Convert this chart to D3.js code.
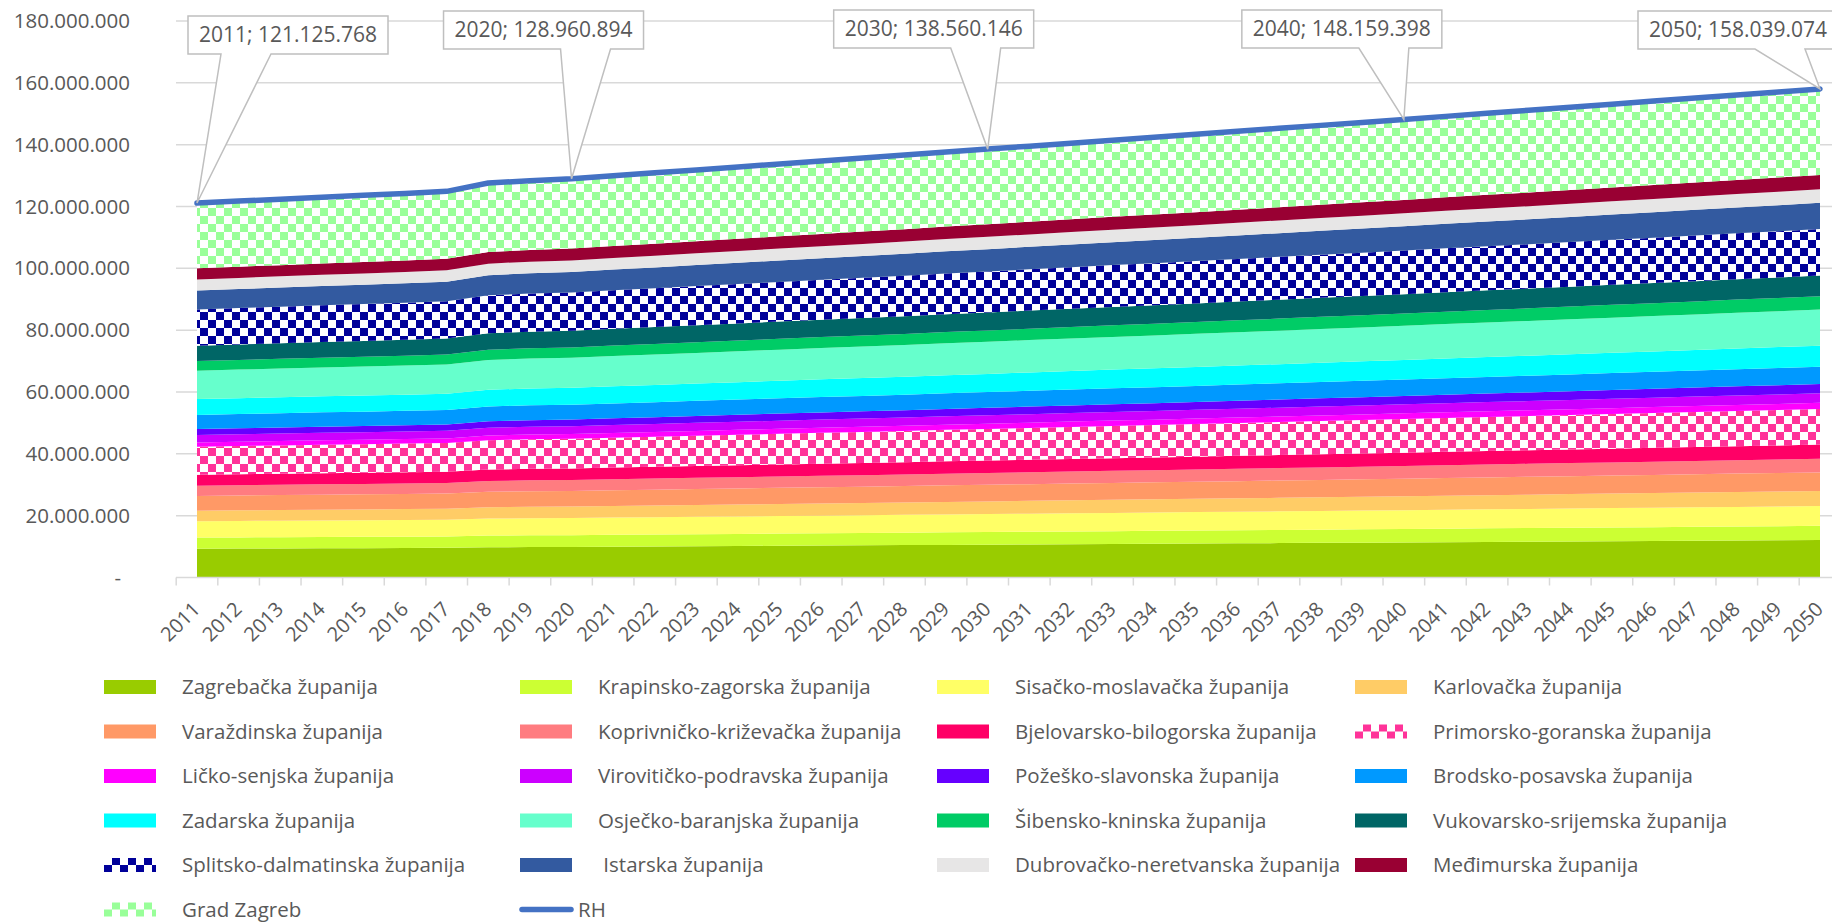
<!DOCTYPE html>
<html>
<head>
<meta charset="utf-8">
<script src="https://cdn.jsdelivr.net/npm/d3@7"></script>
<style>
  body { margin: 0; background: #fff; }
  svg { display: block; font-family: "Open Sans", sans-serif; }
  text { fill: #595959; white-space: pre; }
</style>
</head>
<body>
<script>
// Years on the category axis
const years = [2011, 2012, 2013, 2014, 2015, 2016, 2017, 2018, 2019, 2020,
               2021, 2022, 2023, 2024, 2025, 2026, 2027, 2028, 2029, 2030,
               2031, 2032, 2033, 2034, 2035, 2036, 2037, 2038, 2039, 2040,
               2041, 2042, 2043, 2044, 2045, 2046, 2047, 2048, 2049, 2050];

// Y axis ticks (millions)
const yTicks = [0, 20, 40, 60, 80, 100, 120, 140, 160, 180];

// County values, millions
const zagrebacka = [9.30,9.35,9.40,9.44,9.49,9.54,9.59,9.79,9.85,9.89, 9.97,10.04,10.11,10.18,10.26,10.33,10.40,10.48,10.55,10.62, 10.69,10.77,10.84,10.91,10.99,11.06,11.13,11.20,11.28,11.35, 11.43,11.50,11.58,11.65,11.72,11.80,11.88,11.95,12.02,12.10];
const krapinsko = [3.60,3.62,3.63,3.65,3.67,3.68,3.70,3.78,3.80,3.81, 3.84,3.86,3.89,3.92,3.94,3.97,3.99,4.02,4.05,4.07, 4.10,4.12,4.15,4.18,4.20,4.23,4.25,4.28,4.31,4.33, 4.36,4.39,4.41,4.44,4.47,4.49,4.52,4.55,4.57,4.60];
const sisacko = [5.30,5.32,5.34,5.36,5.37,5.39,5.41,5.49,5.52,5.53, 5.56,5.59,5.62,5.65,5.68,5.71,5.73,5.76,5.79,5.82, 5.85,5.88,5.91,5.93,5.96,5.99,6.02,6.05,6.08,6.11, 6.14,6.17,6.19,6.22,6.25,6.28,6.31,6.34,6.37,6.40];
const karlovacka = [3.40,3.43,3.45,3.48,3.50,3.53,3.55,3.66,3.69,3.72, 3.76,3.80,3.84,3.87,3.91,3.95,3.99,4.03,4.07,4.11, 4.15,4.19,4.23,4.26,4.30,4.34,4.38,4.42,4.46,4.50, 4.54,4.58,4.62,4.66,4.70,4.74,4.78,4.82,4.86,4.90];
const varazdinska = [4.80,4.82,4.84,4.86,4.88,4.90,4.92,5.01,5.04,5.05, 5.09,5.12,5.15,5.18,5.21,5.24,5.27,5.30,5.34,5.37, 5.40,5.43,5.46,5.49,5.52,5.55,5.59,5.62,5.65,5.68, 5.71,5.74,5.78,5.81,5.84,5.87,5.90,5.94,5.97,6.00];
const koprivnicko = [3.30,3.32,3.34,3.36,3.37,3.39,3.41,3.49,3.52,3.53, 3.56,3.59,3.62,3.65,3.68,3.71,3.73,3.76,3.79,3.82, 3.85,3.88,3.91,3.93,3.96,3.99,4.02,4.05,4.08,4.11, 4.14,4.17,4.19,4.22,4.25,4.28,4.31,4.34,4.37,4.40];
const bjelovarsko = [3.50,3.52,3.54,3.56,3.57,3.59,3.61,3.69,3.72,3.73, 3.76,3.79,3.82,3.85,3.88,3.91,3.93,3.96,3.99,4.02, 4.05,4.08,4.11,4.13,4.16,4.19,4.22,4.25,4.28,4.31, 4.34,4.37,4.39,4.42,4.45,4.48,4.51,4.54,4.57,4.60];
const primorsko = [9.10,9.14,9.18,9.22,9.26,9.30,9.35,9.52,9.57,9.61, 9.67,9.73,9.80,9.86,9.92,9.98,10.05,10.11,10.17,10.23, 10.30,10.36,10.42,10.48,10.55,10.61,10.67,10.73,10.79,10.86, 10.92,10.99,11.05,11.11,11.18,11.24,11.31,11.37,11.44,11.50];
const licko = [1.40,1.41,1.42,1.43,1.44,1.45,1.46,1.51,1.52,1.53, 1.54,1.56,1.57,1.59,1.61,1.62,1.64,1.65,1.67,1.68, 1.70,1.71,1.73,1.75,1.76,1.78,1.79,1.81,1.82,1.84, 1.86,1.87,1.89,1.90,1.92,1.94,1.95,1.97,1.98,2.00];
const viroviticko = [2.40,2.41,2.42,2.44,2.45,2.46,2.47,2.52,2.54,2.55, 2.57,2.59,2.60,2.62,2.64,2.66,2.68,2.69,2.71,2.73, 2.75,2.77,2.79,2.80,2.82,2.84,2.86,2.88,2.89,2.91, 2.93,2.95,2.97,2.99,3.01,3.03,3.04,3.06,3.08,3.10];
const pozesko = [1.90,1.92,1.94,1.96,1.97,1.99,2.01,2.09,2.12,2.13, 2.16,2.19,2.22,2.25,2.28,2.31,2.33,2.36,2.39,2.42, 2.45,2.48,2.51,2.53,2.56,2.59,2.62,2.65,2.68,2.71, 2.74,2.77,2.79,2.82,2.85,2.88,2.91,2.94,2.97,3.00];
const brodsko = [4.60,4.62,4.63,4.65,4.67,4.68,4.70,4.78,4.80,4.81, 4.84,4.86,4.89,4.92,4.94,4.97,4.99,5.02,5.05,5.07, 5.10,5.12,5.15,5.18,5.20,5.23,5.25,5.28,5.31,5.33, 5.36,5.39,5.41,5.44,5.47,5.49,5.52,5.55,5.57,5.60];
const zadarska = [5.10,5.13,5.16,5.19,5.21,5.24,5.27,5.40,5.43,5.46, 5.51,5.55,5.59,5.64,5.68,5.73,5.77,5.81,5.86,5.90, 5.95,5.99,6.04,6.08,6.12,6.17,6.21,6.26,6.30,6.34, 6.39,6.44,6.48,6.53,6.57,6.62,6.66,6.71,6.75,6.80];
const osjecko = [9.20,9.24,9.29,9.33,9.37,9.41,9.46,9.64,9.69,9.73, 9.80,9.86,9.93,9.99,10.06,10.12,10.19,10.25,10.32,10.38, 10.45,10.51,10.58,10.64,10.71,10.77,10.84,10.90,10.97,11.03, 11.10,11.17,11.23,11.30,11.37,11.43,11.50,11.57,11.63,11.70];
const sibensko = [3.10,3.12,3.14,3.16,3.18,3.20,3.22,3.31,3.34,3.35, 3.39,3.42,3.45,3.48,3.51,3.54,3.57,3.60,3.64,3.67, 3.70,3.73,3.76,3.79,3.82,3.85,3.89,3.92,3.95,3.98, 4.01,4.04,4.08,4.11,4.14,4.17,4.20,4.24,4.27,4.30];
const vukovarsko = [5.00,5.03,5.06,5.09,5.11,5.14,5.17,5.30,5.33,5.36, 5.41,5.45,5.49,5.54,5.58,5.63,5.67,5.71,5.76,5.80, 5.85,5.89,5.94,5.98,6.02,6.07,6.11,6.16,6.20,6.24, 6.29,6.34,6.38,6.43,6.47,6.52,6.56,6.61,6.65,6.70];
const splitsko = [11.70,11.76,11.81,11.87,11.92,11.98,12.04,12.28,12.35,12.40, 12.49,12.57,12.66,12.74,12.83,12.91,13.00,13.09,13.17,13.26, 13.34,13.43,13.52,13.60,13.69,13.77,13.86,13.94,14.03,14.12, 14.21,14.29,14.38,14.47,14.56,14.65,14.74,14.83,14.91,15.00];
const istarska = [6.10,6.14,6.18,6.22,6.26,6.30,6.35,6.52,6.57,6.61, 6.67,6.73,6.80,6.86,6.92,6.98,7.05,7.11,7.17,7.23, 7.30,7.36,7.42,7.48,7.55,7.61,7.67,7.73,7.79,7.86, 7.92,7.99,8.05,8.11,8.18,8.24,8.31,8.37,8.44,8.50];
const dubrovacko = [3.60,3.61,3.63,3.64,3.65,3.67,3.68,3.74,3.76,3.77, 3.79,3.81,3.83,3.85,3.87,3.89,3.92,3.94,3.96,3.98, 4.00,4.02,4.04,4.06,4.08,4.10,4.12,4.14,4.17,4.19, 4.21,4.23,4.25,4.27,4.29,4.31,4.34,4.36,4.38,4.40];
const medimurska = [3.60,3.62,3.63,3.65,3.67,3.68,3.70,3.78,3.80,3.81, 3.84,3.86,3.89,3.92,3.94,3.97,3.99,4.02,4.05,4.07, 4.10,4.12,4.15,4.18,4.20,4.23,4.25,4.28,4.31,4.33, 4.36,4.39,4.41,4.44,4.47,4.49,4.52,4.55,4.57,4.60];
const gradZagreb = [21.10,21.21,21.33,21.44,21.55,21.66,21.78,22.27,22.41,22.52, 22.70,22.87,23.04,23.22,23.39,23.57,23.74,23.91,24.09,24.26, 24.44,24.61,24.79,24.96,25.13,25.31,25.48,25.66,25.83,26.00, 26.19,26.37,26.55,26.72,26.90,27.08,27.26,27.45,27.62,27.80];

// RH total, millions
const rh = [121.125768,121.75,122.37,122.99,123.61,124.23,124.90,127.60,128.35,128.960894,
            129.92,130.88,131.84,132.80,133.76,134.72,135.68,136.64,137.60,138.560146,
            139.52,140.48,141.44,142.40,143.36,144.32,145.28,146.24,147.20,148.159398,
            149.15,150.14,151.13,152.11,153.10,154.09,155.08,156.07,157.05,158.039074];

const labelYears = [2011, 2020, 2030, 2040, 2050];

// series: name, values, fill colour, patterned or not
const series = [
    {name: "Zagrebačka županija", values: zagrebacka, color: "#99cc00"},
    {name: "Krapinsko-zagorska županija", values: krapinsko, color: "#ccff33"},
    {name: "Sisačko-moslavačka županija", values: sisacko, color: "#ffff66"},
    {name: "Karlovačka županija", values: karlovacka, color: "#ffcc66"},
    {name: "Varaždinska županija", values: varazdinska, color: "#ff9966"},
    {name: "Koprivničko-križevačka županija", values: koprivnicko, color: "#ff7c80"},
    {name: "Bjelovarsko-bilogorska županija", values: bjelovarsko, color: "#ff0066"},
    {name: "Primorsko-goranska županija", values: primorsko, color: "#ff3399", pattern: true},
    {name: "Ličko-senjska županija", values: licko, color: "#ff00ff"},
    {name: "Virovitičko-podravska županija", values: viroviticko, color: "#cc00ff"},
    {name: "Požeško-slavonska županija", values: pozesko, color: "#6600ff"},
    {name: "Brodsko-posavska županija", values: brodsko, color: "#0099ff"},
    {name: "Zadarska županija", values: zadarska, color: "#00ffff"},
    {name: "Osječko-baranjska županija", values: osjecko, color: "#66ffcc"},
    {name: "Šibensko-kninska županija", values: sibensko, color: "#00cc66"},
    {name: "Vukovarsko-srijemska županija", values: vukovarsko, color: "#006666"},
    {name: "Splitsko-dalmatinska županija", values: splitsko, color: "#000099", pattern: true},
    {name: " Istarska županija", values: istarska, color: "#335aa0"},
    {name: "Dubrovačko-neretvanska županija", values: dubrovacko, color: "#e7e6e6"},
    {name: "Međimurska županija", values: medimurska, color: "#990033"},
    {name: "Grad Zagreb", values: gradZagreb, color: "#99ff99", pattern: true}
];

const width = 1832, height = 923;
const svg = d3.select("body").append("svg")
    .attr("width", width)
    .attr("height", height);

const loc = d3.formatLocale({decimal: ",", thousands: ".", grouping: [3], currency: ["", ""]});
const fmt = loc.format(",d");

// scales
const x = d3.scalePoint().domain(years).range([197, 1820]);
const step = x.step();
const y = d3.scaleLinear().domain([0, 180]).range([577.5, 21]);
const plotLeft = 176;

// checker patterns
const defs = svg.append("defs");
series.forEach((s, i) => {
    if (!s.pattern) return;
    s.id = "chk" + i;
    const p = defs.append("pattern")
        .attr("id", s.id)
        .attr("patternUnits", "userSpaceOnUse")
        .attr("width", 16).attr("height", 16);
    p.append("rect").attr("width", 16).attr("height", 16).attr("fill", "#fff");
    p.append("rect").attr("width", 8).attr("height", 8).attr("fill", s.color);
    p.append("rect").attr("x", 8).attr("y", 8).attr("width", 8).attr("height", 8).attr("fill", s.color);
});
const fillOf = s => s.pattern ? "url(#" + s.id + ")" : s.color;

// gridlines
svg.append("g").selectAll("line")
    .data(yTicks.filter(d => d > 0))
    .enter().append("line")
    .attr("x1", plotLeft).attr("x2", width + 20)
    .attr("y1", d => y(d)).attr("y2", d => y(d))
    .attr("stroke", "#d9d9d9").attr("stroke-width", 1.5);

// y axis labels
const yAxis = svg.append("g")
    .attr("transform", "translate(" + plotLeft + ",0)")
    .call(d3.axisLeft(y).tickValues(yTicks).tickSize(0).tickPadding(46)
        .tickFormat(d => d === 0 ? "-" : fmt(d * 1e6)));
yAxis.select(".domain").remove();
yAxis.selectAll("text")
    .attr("font-size", 20.5)
    .attr("font-family", "Open Sans")
    .style("fill", "#595959")
    .attr("x", d => d === 0 ? -55 : -46);

// stacked areas
const table = years.map((yr, i) => {
    const row = {year: yr};
    series.forEach(s => row[s.name] = s.values[i]);
    return row;
});
const stacked = d3.stack().keys(series.map(s => s.name))(table);
const area = d3.area()
    .x(d => x(d.data.year))
    .y0(d => y(d[0]))
    .y1(d => y(d[1]));

svg.append("g").selectAll("path")
    .data(stacked)
    .enter().append("path")
    .attr("d", area)
    .attr("fill", (d, i) => fillOf(series[i]));

// x axis line and tick marks (between categories)
const axisY = y(0);
svg.append("line")
    .attr("x1", plotLeft).attr("x2", width + 20)
    .attr("y1", axisY).attr("y2", axisY)
    .attr("stroke", "#d9d9d9").attr("stroke-width", 1.5);
svg.append("g").selectAll("line")
    .data(years.concat([null]))
    .enter().append("line")
    .attr("x1", (d, i) => x(years[0]) - step / 2 + i * step)
    .attr("x2", (d, i) => x(years[0]) - step / 2 + i * step)
    .attr("y1", axisY).attr("y2", axisY + 8)
    .attr("stroke", "#d9d9d9").attr("stroke-width", 1.5);

// x labels
const xAxis = svg.append("g")
    .attr("transform", "translate(0," + axisY + ")")
    .call(d3.axisBottom(x).tickSize(0));
xAxis.select(".domain").remove();
xAxis.selectAll("text")
    .attr("font-size", 20)
    .attr("font-family", "Open Sans")
    .style("fill", "#595959")
    .attr("text-anchor", "end")
    .attr("x", 0).attr("y", 0).attr("dy", "0.35em")
    .attr("transform", "translate(-1,28) rotate(-45)");

// RH line
const line = d3.line()
    .x((d, i) => x(years[i]))
    .y(d => y(d));
svg.append("path")
    .datum(rh)
    .attr("d", line)
    .attr("fill", "none")
    .attr("stroke", "#4472c4")
    .attr("stroke-width", 5.5)
    .attr("stroke-linecap", "round")
    .attr("stroke-linejoin", "round");

// data callouts
const boxW = 200, boxH = 38;
const calloutLayout = {
    2011: {dx: -9, top: 16, wedge: 58},
    2020: {dx: -128, top: 11, wedge: 142},
    2030: {dx: -154, top: 10, wedge: 142},
    2040: {dx: -162, top: 10, wedge: 142},
    2050: {dx: -182, top: 11, wedge: 142}
};
labelYears.forEach(yr => {
    const i = years.indexOf(yr);
    const tx = x(yr), ty = y(rh[i]);
    const L = calloutLayout[yr];
    const bx = tx + L.dx, by = L.top;
    const w1 = bx + L.wedge - 25, w2 = bx + L.wedge + 25;
    const path = "M" + bx + "," + by + "H" + (bx + boxW) + "V" + (by + boxH) +
        "H" + w2 + "L" + tx + "," + ty + "L" + w1 + "," + (by + boxH) + "H" + bx + "Z";
    svg.append("path")
        .attr("d", path)
        .attr("fill", "#fff")
        .attr("stroke", "#bfbfbf")
        .attr("stroke-width", 1.5);
    svg.append("text")
        .attr("x", bx + boxW / 2)
        .attr("y", by + boxH / 2)
        .attr("dy", "0.35em")
        .attr("text-anchor", "middle")
        .attr("font-size", 21)
        .text(yr + "; " + fmt(Math.round(rh[i] * 1e6)));
});

// legend
const legendCols = [104, 520, 937, 1355];
const legendTop = 687, legendStep = 44.5;
const legendItems = series.map(s => ({name: s.name, fill: fillOf(s), type: "area"}))
    .concat([{name: "RH", type: "line"}]);

const legend = svg.selectAll(".legend")
    .data(legendItems)
    .enter().append("g")
    .attr("class", "legend")
    .attr("transform", (d, i) => "translate(" + legendCols[i % 4] + "," + (legendTop + Math.floor(i / 4) * legendStep) + ")");

legend.filter(d => d.type === "area").append("rect")
    .attr("x", 0).attr("y", -7)
    .attr("width", 52).attr("height", 14)
    .attr("fill", d => d.fill);

legend.filter(d => d.type === "line").append("line")
    .attr("x1", 2).attr("x2", 51)
    .attr("y1", 0).attr("y2", 0)
    .attr("stroke", "#4472c4")
    .attr("stroke-width", 5.5)
    .attr("stroke-linecap", "round");

legend.append("text")
    .attr("x", d => d.type === "line" ? 58 : 78)
    .attr("y", 0)
    .attr("dy", "0.35em")
    .attr("font-size", 20.5)
    .text(d => d.name);
</script>
</body>
</html>
